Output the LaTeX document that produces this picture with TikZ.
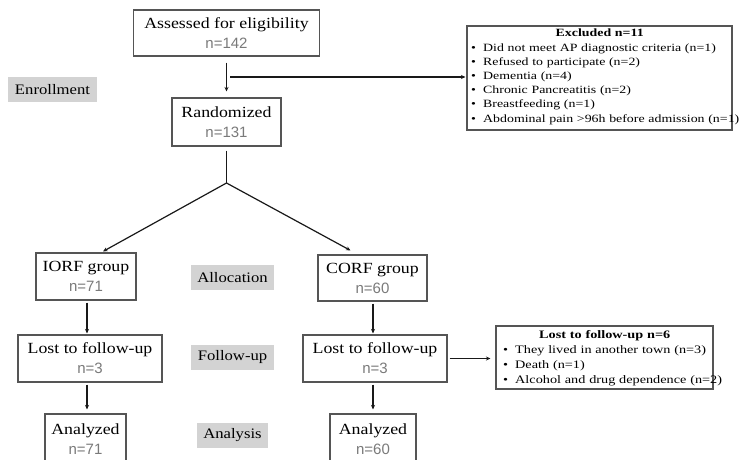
\documentclass[tikz,border=0pt]{standalone}
\usepackage{fontspec}
\setmainfont{Liberation Serif}[FakeStretch=1.15]
\newfontfamily\nfont{Liberation Sans}
\newfontfamily\listfont{Liberation Serif}[FakeStretch=1.25]
\usetikzlibrary{arrows.meta}
\definecolor{boxline}{HTML}{555555}
\definecolor{lblfill}{HTML}{D3D3D3}
\definecolor{ngray}{HTML}{7A7A7A}
\newcommand\blt{\makebox[12pt][l]{\textbullet}}
\newcommand\nval[1]{{\nfont\fontsize{15}{20}\selectfont\color{ngray}#1}}
\begin{document}
\begin{tikzpicture}[x=1pt,y=-1pt,
  box/.style={draw=boxline, line width=1.1pt, fill=white, inner sep=0pt, align=center,
    font=\fontsize{15.5}{20}\selectfont},
  lbl/.style={fill=lblfill, inner sep=0pt, font=\fontsize{14.5}{16}\selectfont},
  conn/.style={draw=black!90, line width=1.2pt},
  arr/.style={conn, -{Stealth[length=4.5pt,width=4pt]}},
  listbox/.style={draw=boxline, line width=1.1pt, fill=white, inner sep=0pt},
  listtxt/.style={anchor=north west, inner sep=0pt, align=left, text width=280pt}]
\clip (0,0) rectangle (741,460);
\fill[white] (0,0) rectangle (741,460);

% main boxes
\node[box, minimum width=186pt, minimum height=46pt] (assess) at (226.5,33) {Assessed for eligibility\\\nval{n=142}};
\node[box, minimum width=109pt, minimum height=48pt] (rand) at (226.5,122) {Randomized\\\nval{n=131}};
\node[box, minimum width=100pt, minimum height=47pt] (iorf) at (86,276.5) {IORF group\\\nval{n=71}};
\node[box, minimum width=109pt, minimum height=46pt] (corf) at (372.5,278) {CORF group\\\nval{n=60}};
\node[box, minimum width=144pt, minimum height=47pt] (lostl) at (90,358.5) {Lost to follow-up\\\nval{n=3}};
\node[box, minimum width=144pt, minimum height=47pt] (lostr) at (375,358.5) {Lost to follow-up\\\nval{n=3}};
\node[box, minimum width=81pt, minimum height=50pt] (anal) at (85.5,439) {Analyzed\\\nval{n=71}};
\node[box, minimum width=86pt, minimum height=50pt] (anar) at (373,439) {Analyzed\\\nval{n=60}};

% phase labels
\node[lbl, minimum width=89pt, minimum height=25pt] (enr) at (52.5,89.5) {Enrollment};
\node[lbl, minimum width=83pt, minimum height=25pt] (alloc) at (232.5,277.5) {Allocation};
\node[lbl, minimum width=83pt, minimum height=25pt] (fup) at (232.5,357.5) {Follow-up};
\node[lbl, minimum width=71pt, minimum height=25pt] (ana) at (232.5,435.5) {Analysis};

% excluded box
\node[listbox, minimum width=265pt, minimum height=104pt] (excl) at (599.5,78) {};
\node[listtxt, font=\listfont\fontsize{11.1}{14.2}\selectfont] (excltxt) at (471,29) {%
\hbox to 257pt{\hfil\textbf{Excluded n=11}\hfil}\\
\blt Did not meet AP diagnostic criteria (n=1)\\
\blt Refused to participate (n=2)\\
\blt Dementia (n=4)\\
\blt Chronic Pancreatitis (n=2)\\
\blt Breastfeeding (n=1)\\
\blt Abdominal pain >96h before admission (n=1)};

% lost box
\node[listbox, minimum width=217pt, minimum height=63pt] (lostbox) at (604.5,357.5) {};
\node[listtxt, font=\listfont\fontsize{11.4}{15}\selectfont] (losttxt) at (503,330) {%
\hbox to 203pt{\hfil\textbf{Lost to follow-up n=6}\hfil}\\
\blt They lived in another town (n=3)\\
\blt Death (n=1)\\
\blt Alcohol and drug dependence (n=2)};

% connectors
\draw[arr, shorten <=6pt, shorten >=6pt] (assess) -- (rand);
\coordinate (s) at (230,77);
\draw[arr, shorten >=1pt] (s) -- (excl.west |- s);
\coordinate (br) at (226.5,183);
\draw[conn, shorten <=4pt] (rand) -- (br);
\draw[arr] (br) -- ([xshift=17pt,yshift=1pt]iorf.north);
\draw[arr] (br) -- ([xshift=-22pt,yshift=4pt]corf.north);
\draw[arr, shorten <=2pt, shorten >=1pt] ([xshift=1pt]iorf.south) -- ([xshift=1pt]iorf.south |- lostl.north);
\draw[arr, shorten <=2pt, shorten >=1pt] ([xshift=0.5pt]corf.south) -- ([xshift=0.5pt]corf.south |- lostr.north);
\draw[arr, shorten <=2pt, shorten >=4pt] ([xshift=-3pt]lostl.south) -- ([xshift=-3pt]lostl.south |- anal.north);
\draw[arr, shorten <=2pt, shorten >=4pt] ([xshift=-2pt]lostr.south) -- ([xshift=-2pt]lostr.south |- anar.north);
\draw[arr, shorten <=2pt, shorten >=5pt] (lostr.east) -- (lostr.east -| lostbox.west);
\end{tikzpicture}
\end{document}
